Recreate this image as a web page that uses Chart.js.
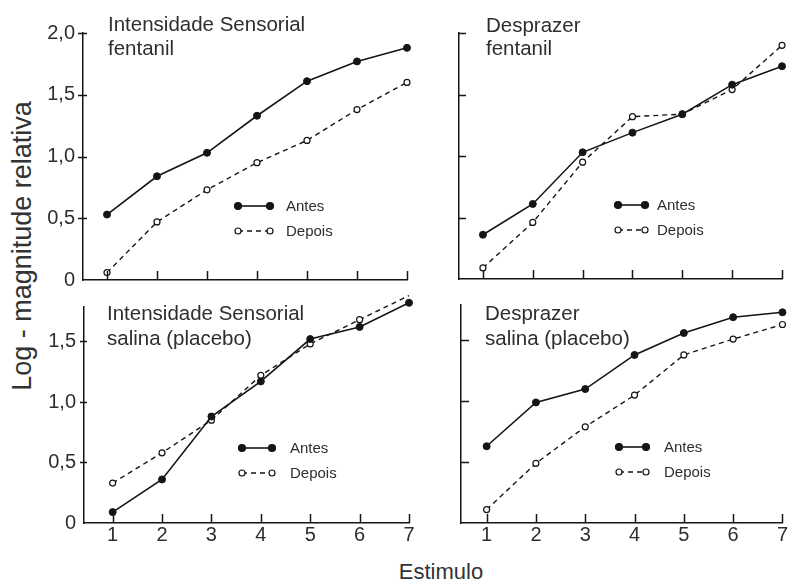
<!DOCTYPE html>
<html lang="pt">
<head>
  <meta charset="UTF-8">
  <title>Log - magnitude relativa x Estimulo</title>
  <script src="https://cdn.jsdelivr.net/npm/chart.js"></script>
  <style>
    body {
      margin: 0;
      background: #fff;
    }
    #wrap {
      position: relative;
      width: 788px;
      height: 582px;
      font-family: "Liberation Sans", Arial, sans-serif;
      color: #333;
    }
    #wrap canvas {
      position: absolute;
      left: 0;
      top: 0;
    }
    .ytitle {
      position: absolute;
      left: 22px;
      top: 246px;
      transform: translate(-50%, -50%) rotate(-90deg);
      font-size: 27px;
      white-space: nowrap;
    }
    .xtitle {
      position: absolute;
      left: 441px;
      top: 572px;
      transform: translate(-50%, -50%);
      font-size: 22px;
      white-space: nowrap;
    }
  </style>
</head>
<body>
<div id="wrap">
  <div class="ytitle">Log - magnitude relativa</div>
  <div class="xtitle">Estimulo</div>
</div>

<script>
  // Stimulus levels (x axis)
  const stimulus = [1, 2, 3, 4, 5, 6, 7];

  // Intensidade Sensorial - fentanil
  const sensFentAntes  = [0.53, 0.84, 1.03, 1.33, 1.61, 1.77, 1.88];
  const sensFentDepois = [0.06, 0.47, 0.73, 0.95, 1.13, 1.38, 1.60];
  // Desprazer - fentanil
  const despFentAntes  = [0.36, 0.61, 1.03, 1.19, 1.34, 1.58, 1.73];
  const despFentDepois = [0.09, 0.46, 0.95, 1.32, 1.34, 1.54, 1.90];
  // Intensidade Sensorial - salina (placebo)
  const sensSalAntes   = [0.09, 0.36, 0.88, 1.17, 1.52, 1.62, 1.82];
  const sensSalDepois  = [0.33, 0.58, 0.85, 1.22, 1.48, 1.68, 1.88];
  // Desprazer - salina (placebo)
  const despSalAntes   = [0.63, 0.99, 1.10, 1.38, 1.56, 1.69, 1.73];
  const despSalDepois  = [0.11, 0.49, 0.79, 1.05, 1.38, 1.51, 1.63];

  const seriesNames = ['Antes', 'Depois'];

  const INK = '#151515';
  const TXT = '#2e2e2e';
  const FONT = '"Liberation Sans", Arial, sans-serif';

  // ticks pointing into the plot, panel titles and the little legends
  const panelDeco = {
    id: 'panelDeco',
    afterDraw(chart, args, opts) {
      const ctx = chart.ctx;
      const a = chart.chartArea;
      const xs = chart.scales.x, ys = chart.scales.y;
      ctx.save();
      ctx.strokeStyle = INK;
      ctx.lineWidth = 1.5;
      ctx.beginPath();
      stimulus.forEach(v => {
        const px = Math.round(xs.getPixelForValue(v)) + 0.5;
        ctx.moveTo(px, a.bottom);
        ctx.lineTo(px, a.bottom - 9);
      });
      opts.yTicks.forEach(v => {
        const py = Math.round(ys.getPixelForValue(v)) + 0.5;
        ctx.moveTo(a.left - opts.yOut, py);
        ctx.lineTo(a.left + opts.yIn, py);
      });
      ctx.stroke();

      // title
      ctx.fillStyle = TXT;
      ctx.font = '20.5px ' + FONT;
      ctx.textAlign = 'left';
      ctx.textBaseline = 'alphabetic';
      opts.title.forEach((t, i) => ctx.fillText(t, opts.tx, opts.ty[i]));

      // legend
      seriesNames.forEach((name, i) => {
        const y = opts.ly + i * 25;
        const x0 = opts.lx, x1 = opts.lx + opts.lw;
        ctx.strokeStyle = INK;
        ctx.lineWidth = i === 0 ? 1.6 : 1.4;
        ctx.setLineDash(i === 0 ? [] : [5, 4]);
        ctx.beginPath();
        ctx.moveTo(x0, y);
        ctx.lineTo(x1, y);
        ctx.stroke();
        ctx.setLineDash([]);
        [x0, x1].forEach(cx => {
          ctx.beginPath();
          ctx.arc(cx, y, i === 0 ? 3.5 : 3, 0, Math.PI * 2);
          ctx.fillStyle = i === 0 ? INK : '#fff';
          ctx.fill();
          ctx.lineWidth = 1.2;
          ctx.stroke();
        });
        ctx.fillStyle = TXT;
        ctx.font = '15px ' + FONT;
        ctx.fillText(name, opts.ltx, y + 5);
      });
      ctx.restore();
    }
  };

  function pts(values) {
    return stimulus.map((x, i) => ({ x: x, y: values[i] }));
  }

  function fmt(v) {
    return v === 0 ? '0' : v.toFixed(1).replace('.', ',');
  }

  function makePanel(cfg) {
    const canvas = document.createElement('canvas');
    canvas.width = 788;
    canvas.height = 582;
    document.getElementById('wrap').appendChild(canvas);

    new Chart(canvas, {
      type: 'line',
      data: {
        datasets: [
          {
            label: seriesNames[0],
            data: pts(cfg.antes),
            borderColor: INK,
            borderWidth: 1.6,
            pointRadius: 3.5,
            pointBackgroundColor: INK,
            pointBorderColor: INK,
            pointBorderWidth: 1,
            tension: 0,
            clip: false
          },
          {
            label: seriesNames[1],
            data: pts(cfg.depois),
            borderColor: INK,
            borderWidth: 1.4,
            borderDash: [5, 4],
            pointRadius: 3,
            pointBackgroundColor: '#fff',
            pointBorderColor: INK,
            pointBorderWidth: 1.2,
            tension: 0,
            clip: false
          }
        ]
      },
      options: {
        responsive: false,
        animation: false,
        events: [],
        layout: { padding: cfg.pad },
        plugins: {
          legend: { display: false },
          tooltip: { enabled: false },
          panelDeco: cfg.deco
        },
        scales: {
          x: {
            type: 'linear',
            min: cfg.xMin,
            max: 7,
            afterFit: s => { s.height = cfg.xH; },
            grid: { display: false, drawTicks: false },
            border: { display: true, color: INK, width: 1.5 },
            ticks: {
              display: cfg.xLabels,
              stepSize: 1,
              includeBounds: false,
              padding: 0,
              maxRotation: 0,
              color: TXT,
              font: { size: 20, family: FONT }
            }
          },
          y: {
            min: 0,
            max: cfg.yMax,
            afterFit: s => { s.width = cfg.yW; },
            grid: { display: false, drawTicks: false },
            border: { display: true, color: INK, width: 1.5 },
            ticks: {
              display: cfg.yLabels,
              stepSize: 0.5,
              includeBounds: false,
              padding: 8,
              color: TXT,
              font: { size: 20, family: FONT },
              callback: v => fmt(v)
            }
          }
        }
      },
      plugins: [panelDeco]
    });
  }

  // top left
  makePanel({
    antes: sensFentAntes, depois: sensFentDepois,
    pad: { left: 0, top: 33, right: 381, bottom: 292 },
    xMin: 0.52, xH: 10, xLabels: false,
    yMax: 2, yW: 83, yLabels: true,
    deco: {
      yTicks: [0.5, 1, 1.5, 2], yOut: 5, yIn: 4,
      title: ['Intensidade Sensorial', 'fentanil'], tx: 108, ty: [31, 55],
      lx: 238, lw: 32, ly: 206, ltx: 286
    }
  });

  // top right
  makePanel({
    antes: despFentAntes, depois: despFentDepois,
    pad: { left: 439, top: 33, right: 6, bottom: 293 },
    xMin: 0.52, xH: 10, xLabels: false,
    yMax: 2, yW: 20, yLabels: false,
    deco: {
      yTicks: [0.5, 1, 1.5, 2], yOut: 0, yIn: 7,
      title: ['Desprazer', 'fentanil'], tx: 486, ty: [32, 55],
      lx: 618, lw: 27, ly: 205, ltx: 657
    }
  });

  // bottom left
  makePanel({
    antes: sensSalAntes, depois: sensSalDepois,
    pad: { left: 0, top: 307, right: 379, bottom: 19 },
    xMin: 0.42, xH: 40, xLabels: true,
    yMax: 1.785, yW: 84, yLabels: true,
    deco: {
      yTicks: [0.5, 1, 1.5], yOut: 4, yIn: 3,
      title: ['Intensidade Sensorial', 'salina (placebo)'], tx: 107, ty: [320, 345],
      lx: 242, lw: 30, ly: 448, ltx: 290
    }
  });

  // bottom right
  makePanel({
    antes: despSalAntes, depois: despSalDepois,
    pad: { left: 441, top: 305, right: 5, bottom: 19 },
    xMin: 0.48, xH: 40, xLabels: true,
    yMax: 1.79, yW: 20, yLabels: false,
    deco: {
      yTicks: [0.5, 1, 1.5], yOut: 0, yIn: 8,
      title: ['Desprazer', 'salina (placebo)'], tx: 485, ty: [320, 345],
      lx: 619, lw: 27, ly: 447, ltx: 664
    }
  });
</script>
</body>
</html>
